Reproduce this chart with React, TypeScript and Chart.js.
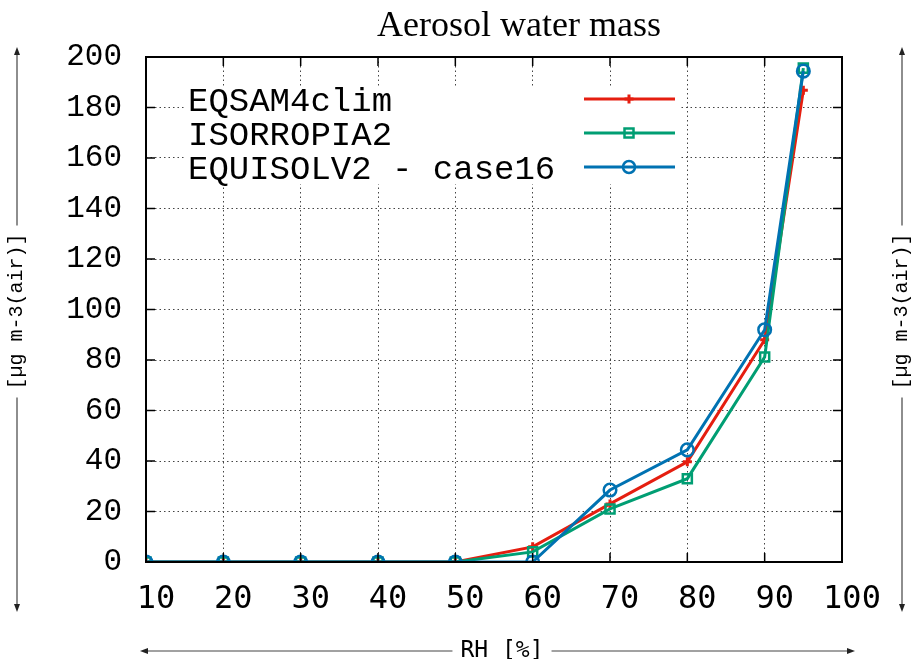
import React, { useEffect, useRef } from 'react';
import { Chart, registerables } from 'chart.js';

Chart.register(...registerables);

const rhValues = [10, 20, 30, 40, 50, 60, 70, 80, 90, 95];
const eqsamValues = [0, 0, 0, 0, 0, 6, 23, 39.7, 88, 186.8];
const isorropiaValues = [0, 0, 0, 0, 0, 4, 21, 33, 81.2, 195.6];
const equisolvValues = [0, 0, 0, 0, 0, 0, 28.5, 44.4, 92, 194.4];
const seriesNames = ['EQSAM4clim', 'ISORROPIA2', 'EQUISOLV2 - case16'];
const seriesColors = ['#e51e10', '#009e73', '#0072b2'];
const seriesMarkers = ['cross', 'rect', 'circle'];
const xTickRange = [10, 100, 10];
const yTickRange = [0, 200, 20];
const titleText = 'Aerosol water mass';
const yAxisLabel = '[µg m-3(air)]';
const xAxisLabel = 'RH [%]';

const seriesValues = [eqsamValues, isorropiaValues, equisolvValues];

function drawMarker(ctx: CanvasRenderingContext2D, style: string, x: number, y: number, color: string) {
  ctx.save();
  ctx.strokeStyle = color;
  ctx.beginPath();
  if (style === 'cross') {
    ctx.lineWidth = 3;
    ctx.moveTo(x - 4.5, y);
    ctx.lineTo(x + 4.5, y);
    ctx.moveTo(x, y - 4.5);
    ctx.lineTo(x, y + 4.5);
  } else if (style === 'rect') {
    ctx.lineWidth = 2.5;
    ctx.rect(x - 4.5, y - 4.5, 9, 9);
  } else {
    ctx.lineWidth = 2.5;
    ctx.arc(x, y, 6, 0, Math.PI * 2);
  }
  ctx.stroke();
  ctx.restore();
}

function arrowHead(ctx: CanvasRenderingContext2D, x: number, y: number, dx: number, dy: number) {
  const len = 8;
  const w = 3;
  const px = -dy;
  const py = dx;
  ctx.beginPath();
  ctx.moveTo(x, y);
  ctx.lineTo(x - dx * len + px * w, y - dy * len + py * w);
  ctx.lineTo(x - dx * len - px * w, y - dy * len - py * w);
  ctx.closePath();
  ctx.fill();
}

const decorPlugin = {
  id: 'decor',
  afterDatasetsDraw(chart: any) {
    const { ctx, chartArea: a, scales } = chart;
    const xs = scales.x;
    const ys = scales.y;
    ctx.save();
    // legend box (opaque)
    const bx0 = a.left + 39;
    const bx1 = a.left + 534;
    const by0 = a.top + 29;
    const by1 = a.top + 127;
    ctx.fillStyle = '#ffffff';
    ctx.fillRect(bx0, by0, bx1 - bx0, by1 - by0);
    ctx.font = '34px "Liberation Mono"';
    ctx.textAlign = 'left';
    ctx.textBaseline = 'middle';
    seriesNames.forEach((name, i) => {
      const ry = a.top + 42 + i * 34;
      ctx.fillStyle = '#000';
      ctx.fillText(name, a.left + 42, ry + 3);
      ctx.strokeStyle = seriesColors[i];
      ctx.lineWidth = 3;
      ctx.beginPath();
      ctx.moveTo(a.left + 438, ry);
      ctx.lineTo(a.left + 529, ry);
      ctx.stroke();
      drawMarker(ctx, seriesMarkers[i], a.left + 483, ry, seriesColors[i]);
    });
    // inward ticks
    ctx.strokeStyle = '#000';
    ctx.lineWidth = 1.5;
    ctx.beginPath();
    xs.ticks.forEach((t: any) => {
      const px = xs.getPixelForValue(t.value);
      ctx.moveTo(px, a.bottom);
      ctx.lineTo(px, a.bottom - 9);
      ctx.moveTo(px, a.top);
      ctx.lineTo(px, a.top + 9);
    });
    ys.ticks.forEach((t: any) => {
      const py = ys.getPixelForValue(t.value);
      ctx.moveTo(a.left, py);
      ctx.lineTo(a.left + 9, py);
      ctx.moveTo(a.right, py);
      ctx.lineTo(a.right - 9, py);
    });
    ctx.stroke();
    // frame
    ctx.lineWidth = 2;
    ctx.strokeRect(a.left, a.top, a.right - a.left, a.bottom - a.top);
    ctx.restore();
  },
  afterDraw(chart: any) {
    const { ctx, chartArea: a } = chart;
    ctx.save();
    // title
    ctx.fillStyle = '#000';
    ctx.font = '36px "Liberation Serif"';
    ctx.textAlign = 'center';
    ctx.textBaseline = 'alphabetic';
    ctx.fillText(titleText, (a.left + a.right) / 2 + 25, a.top - 21);

    // vertical axis labels with arrows (left and right)
    ctx.font = '20px "Liberation Mono"';
    const tw = ctx.measureText(yAxisLabel).width;
    const cy = (a.top + a.bottom) / 2 + 2;
    const topY = a.top - 10;
    const botY = a.bottom + 50;
    [17, 902].forEach((lx) => {
      ctx.strokeStyle = '#444';
      ctx.fillStyle = '#222';
      ctx.lineWidth = 1.2;
      ctx.beginPath();
      ctx.moveTo(lx, topY + 4);
      ctx.lineTo(lx, cy - tw / 2 - 8);
      ctx.moveTo(lx, cy + tw / 2 + 8);
      ctx.lineTo(lx, botY - 4);
      ctx.stroke();
      arrowHead(ctx, lx, topY, 0, -1);
      arrowHead(ctx, lx, botY, 0, 1);
      ctx.save();
      ctx.translate(lx, cy);
      ctx.rotate(-Math.PI / 2);
      ctx.fillStyle = '#000';
      ctx.textAlign = 'center';
      ctx.textBaseline = 'middle';
      ctx.fillText(yAxisLabel, 0, 0);
      ctx.restore();
    });

    // horizontal axis label with arrows
    ctx.font = '23px "DejaVu Sans Mono"';
    const hw = ctx.measureText(xAxisLabel).width;
    const cx = (a.left + a.right) / 2 + 8;
    const ly = a.bottom + 89;
    const leftX = a.left - 6;
    const rightX = a.right + 13;
    ctx.strokeStyle = '#444';
    ctx.fillStyle = '#222';
    ctx.lineWidth = 1.2;
    ctx.beginPath();
    ctx.moveTo(leftX + 4, ly);
    ctx.lineTo(cx - hw / 2 - 8, ly);
    ctx.moveTo(cx + hw / 2 + 8, ly);
    ctx.lineTo(rightX - 4, ly);
    ctx.stroke();
    arrowHead(ctx, leftX, ly, -1, 0);
    arrowHead(ctx, rightX, ly, 1, 0);
    ctx.fillStyle = '#000';
    ctx.textAlign = 'center';
    ctx.textBaseline = 'middle';
    ctx.fillText(xAxisLabel, cx, ly);
    ctx.restore();
  },
};

export default function App() {
  const ref = useRef<HTMLCanvasElement | null>(null);
  useEffect(() => {
    if (!ref.current) return;
    const chart = new Chart(ref.current, {
      type: 'line',
      data: {
        datasets: seriesNames.map((name, i) => ({
          label: name,
          data: rhValues.map((x, j) => ({ x, y: seriesValues[i][j] })),
          borderColor: seriesColors[i],
          backgroundColor: 'rgba(0,0,0,0)',
          borderWidth: 3,
          pointStyle: seriesMarkers[i] as any,
          pointRadius: [4.5, 6.4, 6.3][i],
          pointBorderWidth: [3, 2.5, 2.5][i],
          pointBorderColor: seriesColors[i],
          pointBackgroundColor: 'rgba(0,0,0,0)',
          tension: 0,
          order: [3, 2, 1][i],
        })),
      },
      options: {
        animation: false,
        responsive: false,
        devicePixelRatio: 1,
        layout: { padding: { left: 0, right: 70, top: 57, bottom: 0 } },
        plugins: { legend: { display: false }, tooltip: { enabled: false }, title: { display: false } },
        scales: {
          x: {
            type: 'linear',
            min: xTickRange[0],
            max: xTickRange[1],
            ticks: {
              stepSize: xTickRange[2],
              color: '#000',
              font: { family: 'DejaVu Sans Mono', size: 32 },
              padding: 18,
              labelOffset: 10,
              maxRotation: 0,
              autoSkip: false,
            },
            grid: { color: '#444', lineWidth: 1, drawTicks: false },
            border: { display: false, dash: [1.5, 3] },
            afterFit: (s: any) => {
              s.height = 97;
            },
          },
          y: {
            type: 'linear',
            min: yTickRange[0],
            max: yTickRange[1],
            ticks: {
              stepSize: yTickRange[2],
              color: '#000',
              font: { family: 'Liberation Mono', size: 31 },
              padding: 24,
            },
            grid: { color: '#444', lineWidth: 1, drawTicks: false },
            border: { display: false, dash: [1.5, 3] },
            afterFit: (s: any) => {
              s.width = 146;
            },
          },
        },
      },
      plugins: [decorPlugin],
    } as any);
    return () => chart.destroy();
  }, []);
  return (
    <div style={{ position: 'absolute', left: 0, top: 0, width: 912, height: 659, background: '#fff' }}>
      <canvas ref={ref} width={912} height={659} />
    </div>
  );
}
